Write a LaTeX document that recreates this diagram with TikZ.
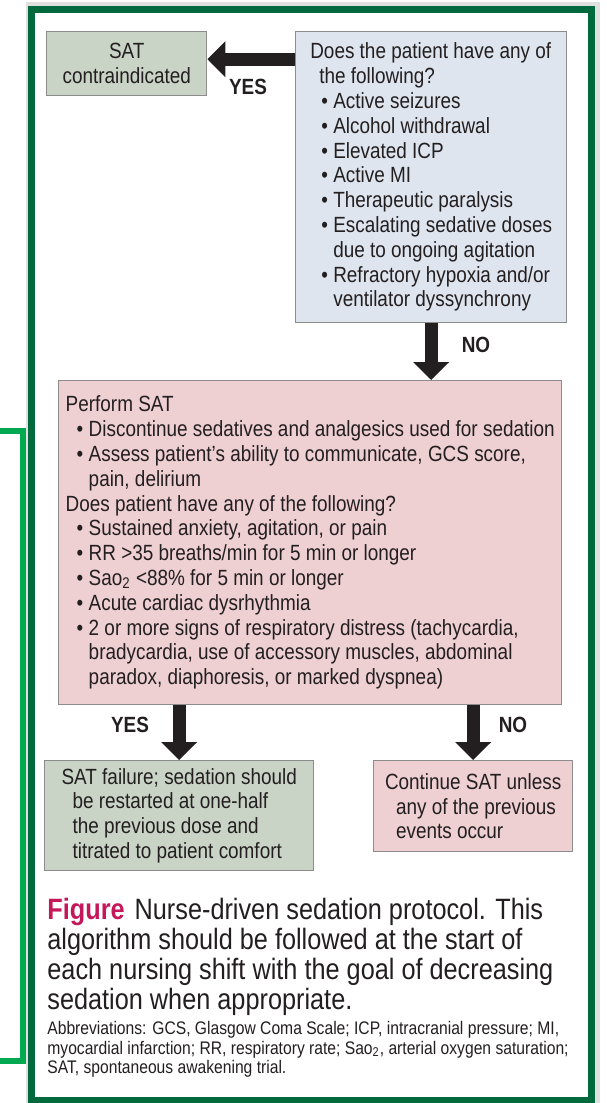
\documentclass[tikz,border=0pt]{standalone}
\usepackage{fontspec}
\setmainfont{Liberation Sans}[FakeStretch=0.86]
\usetikzlibrary{arrows.meta}

\definecolor{framegreen}{RGB}{0,105,62}
\definecolor{sidegreen}{RGB}{0,168,80}
\definecolor{boxgreen}{RGB}{201,212,198}
\definecolor{boxblue}{RGB}{222,229,238}
\definecolor{boxpink}{RGB}{238,207,210}
\definecolor{ink}{RGB}{35,31,32}
\definecolor{figred}{RGB}{196,24,90}

\newcommand{\itm}[1]{\hspace*{5.5pt}\makebox[6pt][l]{\textbullet}#1}
\newcommand{\cnt}{\hspace*{11.5pt}}

\begin{document}
\begin{tikzpicture}[x=0.5pt,y=-0.5pt,
    every node/.style={text=ink,font=\fontsize{11}{12.4}\selectfont},
    box/.style={draw=black!45,line width=0.7pt,rectangle,anchor=north west,inner sep=0pt},
    answer/.style={font=\bfseries\fontsize{11}{12.4}\selectfont},
    blockarrow/.style={draw=ink,line width=6.5pt,-{Triangle[width=17.5pt,length=9pt]}}]

    \useasboundingbox (0,0) rectangle (606,1103);

    % frame of the figure
    \draw[black!12,line width=4pt] (30,6) rectangle (596,1108);
    \draw[framegreen,line width=3.5pt,fill=white] (31.5,9.5) rectangle (591.5,1100.5);
    \draw[sidegreen,line width=3pt] (0,431) -- (23,431) -- (23,1061) -- (0,1061);

    \begin{scope}
        \node[box,fill=boxgreen,align=center,minimum width=80pt,minimum height=32pt] (1) at (46,31) {SAT\\contraindicated};
        \node[box,fill=boxblue,align=left,minimum width=135.5pt,minimum height=145.5pt] (2) at (295,31) {Does the patient have any of\\
            \hspace*{4.5pt}the following?\\
            \itm{Active seizures}\\
            \itm{Alcohol withdrawal}\\
            \itm{Elevated ICP}\\
            \itm{Active MI}\\
            \itm{Therapeutic paralysis}\\
            \itm{Escalating sedative doses}\\
            \cnt due to ongoing agitation\\
            \itm{Refractory hypoxia and/or}\\
            \cnt ventilator dyssynchrony};
        \node[box,fill=boxpink,align=left,minimum width=251.5pt,minimum height=162pt] (3) at (58,380) {Perform SAT\\
            \itm{Discontinue sedatives and analgesics used for sedation}\\
            \itm{Assess patient’s ability to communicate, GCS score,}\\
            \cnt pain, delirium\\
            Does patient have any of the following?\\
            \itm{Sustained anxiety, agitation, or pain}\\
            \itm{RR >35 breaths/min for 5 min or longer}\\
            \itm{Sao\textsubscript{2} <88\% for 5 min or longer}\\
            \itm{Acute cardiac dysrhythmia}\\
            \itm{2 or more signs of respiratory distress (tachycardia,}\\
            \cnt bradycardia, use of accessory muscles, abdominal\\
            \cnt paradox, diaphoresis, or marked dyspnea)};
        \node[box,fill=boxgreen,align=left,minimum width=134.5pt,minimum height=55pt] (4) at (44,760) {SAT failure; sedation should\\
            \hspace*{5.5pt}be restarted at one-half\\
            \hspace*{5.5pt}the previous dose and\\
            \hspace*{5.5pt}titrated to patient comfort};
        \node[box,fill=boxpink,align=left,minimum width=99.5pt,minimum height=45.5pt] (5) at (373,760) {Continue SAT unless\\
            \hspace*{5.5pt}any of the previous\\
            \hspace*{5.5pt}events occur};
    \end{scope}

    \node[answer] (yes1) at (248,87) {YES};
    \node[answer] (no1) at (476,345) {NO};
    \node[answer] (yes2) at (130,725) {YES};
    \node[answer] (no2) at (513,725) {NO};

    \coordinate (c1) at ([yshift=2.25pt]1.east);
    \draw[blockarrow] (2.west |- c1) -- (c1);
    \draw[blockarrow] (2.south) -- (2.south |- 3.north);
    \draw[blockarrow] (4.north |- 3.south) -- (4.north);
    \draw[blockarrow] (5.north |- 3.south) -- (5.north);

    \node[anchor=north west,align=left,inner sep=0pt,font=\fontsize{14.7}{15}\selectfont] (6) at (47,898) {{\bfseries\color{figred}Figure}\hspace{5pt}Nurse-driven sedation protocol. This\\
        algorithm should be followed at the start of\\
        each nursing shift with the goal of decreasing\\
        sedation when appropriate.};
    \node[anchor=north west,align=left,inner sep=0pt,font=\fontsize{9.1}{9.75}\selectfont] (7) at (47,1021) {Abbreviations: GCS, Glasgow Coma Scale; ICP, intracranial pressure; MI,\\
        myocardial infarction; RR, respiratory rate; Sao\textsubscript{2}, arterial oxygen saturation;\\
        SAT, spontaneous awakening trial.};

\end{tikzpicture}
\end{document}
